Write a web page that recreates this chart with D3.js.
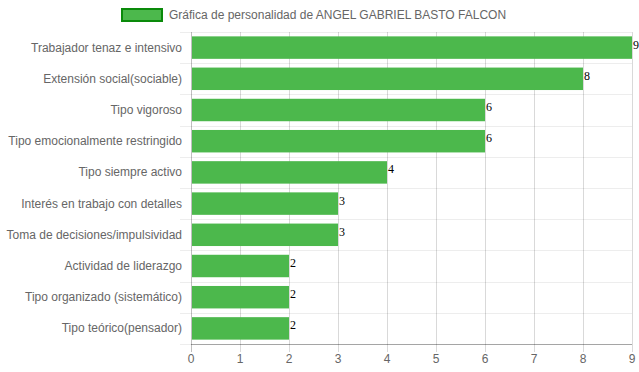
<!DOCTYPE html>
<html>
<head>
<meta charset="utf-8">
<script src="https://cdn.jsdelivr.net/npm/d3@7"></script>
<style>
  body { margin: 0; background: #fff; }
  svg { display: block; font-family: "Liberation Sans", Arial, sans-serif; }
</style>
</head>
<body>
<div id="chart"></div>
<script>
// chart data
const categories = [
  'Trabajador tenaz e intensivo',
  'Extensión social(sociable)',
  'Tipo vigoroso',
  'Tipo emocionalmente restringido',
  'Tipo siempre activo',
  'Interés en trabajo con detalles',
  'Toma de decisiones/impulsividad',
  'Actividad de liderazgo',
  'Tipo organizado (sistemático)',
  'Tipo teórico(pensador)'
];
const values = [9, 8, 6, 6, 4, 3, 3, 2, 2, 2];
const xTicks = [0, 1, 2, 3, 4, 5, 6, 7, 8, 9];
const seriesName = 'Gráfica de personalidad de ANGEL GABRIEL BASTO FALCON';

const width = 639, height = 372;
const margin = { top: 32, right: 7, bottom: 28, left: 191 };
const barColor = '#4cb84c';

const svg = d3.select('#chart')
  .append('svg')
  .attr('width', width)
  .attr('height', height);

const x = d3.scaleLinear()
  .domain([0, 9])
  .range([margin.left, width - margin.right]);

const y = d3.scaleBand()
  .domain(categories)
  .range([margin.top, height - margin.bottom]);

const step = y.step();
const barH = step * 0.72;

// horizontal grid lines between categories
const bounds = categories.map(c => y(c)).concat([height - margin.bottom]);
svg.append('g')
  .selectAll('line')
  .data(bounds)
  .enter()
  .append('line')
  .attr('x1', margin.left - 11)
  .attr('x2', width - margin.right)
  .attr('y1', d => Math.round(d) + 0.5)
  .attr('y2', d => Math.round(d) + 0.5)
  .attr('stroke', 'rgba(0,0,0,0.07)');

// vertical grid lines with tick marks
svg.append('g')
  .selectAll('line')
  .data(xTicks)
  .enter()
  .append('line')
  .attr('x1', d => Math.round(x(d)) + 0.5)
  .attr('x2', d => Math.round(x(d)) + 0.5)
  .attr('y1', margin.top)
  .attr('y2', height - margin.bottom + 8)
  .attr('stroke', d => d === 0 ? 'rgba(0,0,0,0.25)' : 'rgba(0,0,0,0.15)');

// bottom axis line
svg.append('line')
  .attr('x1', margin.left)
  .attr('x2', width - margin.right)
  .attr('y1', height - margin.bottom + 0.5)
  .attr('y2', height - margin.bottom + 0.5)
  .attr('stroke', 'rgba(0,0,0,0.3)');

// bars
svg.append('g')
  .selectAll('rect')
  .data(values)
  .enter()
  .append('rect')
  .attr('x', x(0) + 1)
  .attr('y', (d, i) => y(categories[i]) + (step - barH) / 2)
  .attr('width', d => x(d) - x(0) - 1)
  .attr('height', barH)
  .attr('fill', barColor);

// value labels
svg.append('g')
  .selectAll('text')
  .data(values)
  .enter()
  .append('text')
  .attr('x', d => x(d) + 1)
  .attr('y', (d, i) => y(categories[i]) + step / 2 + 1)
  .style('font-family', '"Liberation Serif", "Times New Roman", serif')
  .style('font-size', '12px')
  .attr('fill', '#000')
  .text(d => d);

// category labels
svg.append('g')
  .selectAll('text')
  .data(categories)
  .enter()
  .append('text')
  .attr('x', margin.left - 9)
  .attr('y', d => y(d) + step / 2 + 4)
  .attr('text-anchor', 'end')
  .style('font-size', '12px')
  .attr('fill', '#666')
  .text(d => d);

// x tick labels
svg.append('g')
  .selectAll('text')
  .data(xTicks)
  .enter()
  .append('text')
  .attr('x', d => x(d))
  .attr('y', height - 9)
  .attr('text-anchor', 'middle')
  .style('font-size', '12px')
  .attr('fill', '#666')
  .text(d => d);

// legend
const legend = svg.append('g');
legend.append('rect')
  .attr('x', 122)
  .attr('y', 9)
  .attr('width', 40)
  .attr('height', 12)
  .attr('fill', barColor)
  .attr('stroke', '#0a8a0a')
  .attr('stroke-width', 2);
legend.append('text')
  .attr('x', 169)
  .attr('y', 19)
  .style('font-size', '12px')
  .attr('fill', '#666')
  .text(seriesName);
</script>
</body>
</html>
